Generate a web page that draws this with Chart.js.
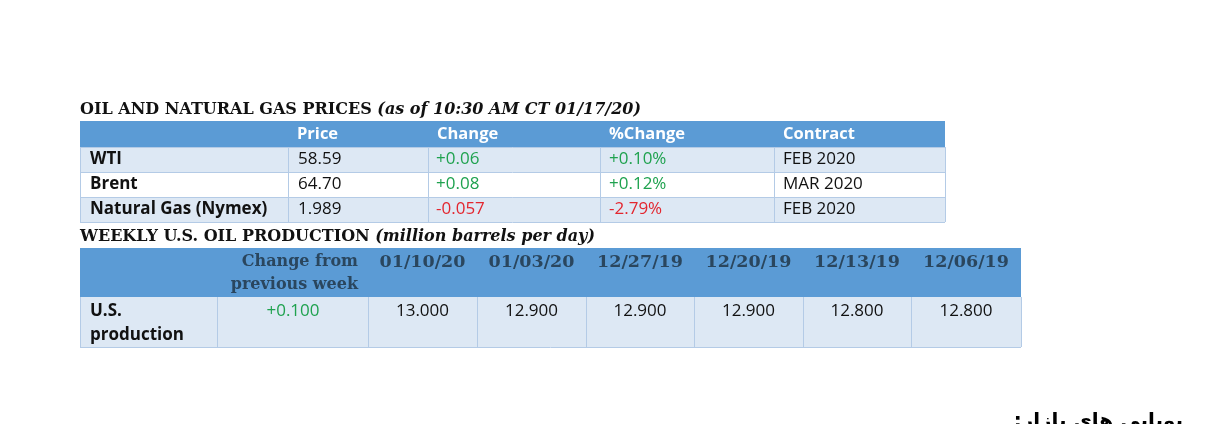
<!DOCTYPE html>
<html lang="en">
  <head>
    <meta charset="UTF-8" />
    <title>Oil and natural gas prices</title>
    <script src="https://cdn.jsdelivr.net/npm/chart.js"></script>
    <style>
      body {
        margin: 0;
        background: #ffffff;
      }
      .wrap {
        width: 1209px;
        height: 424px;
        position: relative;
      }
    </style>
  </head>
  <body>
    <div class="wrap">
      <canvas id="tableChart"></canvas>
    </div>

    <script>
      // prices table
      const priceTitle = "OIL AND NATURAL GAS PRICES ";
      const priceSubtitle = "(as of 10:30 AM CT 01/17/20)";
      const priceHeaders = ["", "Price", "Change", "%Change", "Contract"];
      const priceNames = ["WTI", "Brent", "Natural Gas (Nymex)"];
      const priceValues = ["58.59", "64.70", "1.989"];
      const priceChanges = ["+0.06", "+0.08", "-0.057"];
      const pctChanges = ["+0.10%", "+0.12%", "-2.79%"];
      const contracts = ["FEB 2020", "MAR 2020", "FEB 2020"];

      // weekly production table
      const prodTitle = "WEEKLY U.S. OIL PRODUCTION ";
      const prodSubtitle = "(million barrels per day)";
      const prodLabel = ["U.S.", "production"];
      const changeHeader = ["Change from", "previous week"];
      const weekDates = ["01/10/20", "01/03/20", "12/27/19", "12/20/19", "12/13/19", "12/06/19"];
      const weeklyChange = "+0.100";
      const weeklyOutput = ["13.000", "12.900", "12.900", "12.900", "12.800", "12.800"];

      const footerText = "پویایی های بازار:";

      const BLUE = "#5b9bd5";
      const LIGHT = "#dde8f4";
      const GRID = "#b4cbe6";
      const GREEN = "#1fa24f";
      const RED = "#e3262f";
      const DARK = "#111111";
      const SANS = '"Open Sans", sans-serif';
      const SERIF = '"DejaVu Serif", serif';

      function signColor(s) {
        return s.startsWith("-") ? RED : GREEN;
      }

      const tablePlugin = {
        id: "tables",
        afterDraw(chart) {
          const ctx = chart.ctx;
          const sx = chart.scales.x;
          const sy = chart.scales.y;
          const X = (v) => sx.getPixelForValue(v);
          const Y = (v) => sy.getPixelForValue(v);
          ctx.save();
          ctx.textBaseline = "middle";

          // ---- table 1 ----
          ctx.fillStyle = DARK;
          ctx.textAlign = "left";
          ctx.font = "bold 16px " + SERIF;
          ctx.fillText(priceTitle, X(80), Y(110));
          let w = ctx.measureText(priceTitle).width;
          ctx.font = "italic bold 16px " + SERIF;
          ctx.fillText(priceSubtitle, X(80) + w, Y(110));

          const cols1 = [80, 288, 428, 600, 774, 945];
          const rows1 = [121, 147, 172, 197, 222];
          ctx.fillStyle = BLUE;
          ctx.fillRect(X(80), Y(121), X(945) - X(80), Y(147) - Y(121));
          for (let r = 0; r < 3; r++) {
            ctx.fillStyle = r === 1 ? "#ffffff" : LIGHT;
            ctx.fillRect(X(80), Y(rows1[r + 1]), X(945) - X(80), Y(rows1[r + 2]) - Y(rows1[r + 1]));
          }
          ctx.strokeStyle = GRID;
          ctx.lineWidth = 1;
          for (let r = 1; r < rows1.length; r++) {
            ctx.beginPath();
            ctx.moveTo(X(80), Y(rows1[r]) + 0.5);
            ctx.lineTo(X(945), Y(rows1[r]) + 0.5);
            ctx.stroke();
          }
          for (let c = 0; c < cols1.length; c++) {
            ctx.beginPath();
            ctx.moveTo(X(cols1[c]) + 0.5, Y(147));
            ctx.lineTo(X(cols1[c]) + 0.5, Y(222));
            ctx.stroke();
          }

          ctx.font = "bold 16.5px " + SANS;
          ctx.fillStyle = "#ffffff";
          priceHeaders.forEach((h, i) => {
            ctx.fillText(h, X(cols1[i] + 9), Y(134));
          });
          for (let r = 0; r < priceNames.length; r++) {
            const cy = Y((rows1[r + 1] + rows1[r + 2]) / 2);
            ctx.font = "bold 17px " + SANS;
            ctx.fillStyle = DARK;
            ctx.fillText(priceNames[r], X(90), cy);
            ctx.font = "17px " + SANS;
            ctx.fillText(priceValues[r], X(298), cy);
            ctx.fillStyle = signColor(priceChanges[r]);
            ctx.fillText(priceChanges[r], X(436), cy);
            ctx.fillStyle = signColor(pctChanges[r]);
            ctx.fillText(pctChanges[r], X(609), cy);
            ctx.fillStyle = DARK;
            ctx.fillText(contracts[r], X(783), cy);
          }

          // ---- table 2 ----
          ctx.fillStyle = DARK;
          ctx.font = "bold 16px " + SERIF;
          ctx.fillText(prodTitle, X(80), Y(237));
          w = ctx.measureText(prodTitle).width;
          ctx.font = "italic bold 16px " + SERIF;
          ctx.fillText(prodSubtitle, X(80) + w, Y(237));

          const cols2 = [80, 217, 368, 477, 586, 694, 803, 911, 1021];
          ctx.fillStyle = BLUE;
          ctx.fillRect(X(80), Y(248), X(1021) - X(80), Y(297) - Y(248));
          ctx.fillStyle = LIGHT;
          ctx.fillRect(X(80), Y(297), X(1021) - X(80), Y(347) - Y(297));
          ctx.strokeStyle = GRID;
          ctx.beginPath();
          ctx.moveTo(X(80), Y(347) + 0.5);
          ctx.lineTo(X(1021), Y(347) + 0.5);
          ctx.stroke();
          for (let c = 0; c < cols2.length; c++) {
            ctx.beginPath();
            ctx.moveTo(X(cols2[c]) + 0.5, Y(297));
            ctx.lineTo(X(cols2[c]) + 0.5, Y(347));
            ctx.stroke();
          }

          ctx.font = "bold 16px " + SERIF;
          ctx.fillStyle = "#2a465e";
          ctx.textAlign = "right";
          ctx.fillText(changeHeader[0], X(358), Y(262));
          ctx.fillText(changeHeader[1], X(358), Y(285));
          ctx.textAlign = "center";
          ctx.font = "bold 17.5px " + SERIF;
          weekDates.forEach((d, i) => {
            ctx.fillText(d, X((cols2[i + 2] + cols2[i + 3]) / 2), Y(262));
          });

          ctx.font = "17px " + SANS;
          ctx.fillStyle = signColor(weeklyChange);
          ctx.fillText(weeklyChange, X(293), Y(311));
          ctx.fillStyle = DARK;
          weeklyOutput.forEach((v, i) => {
            ctx.fillText(v, X((cols2[i + 2] + cols2[i + 3]) / 2), Y(311));
          });
          ctx.textAlign = "left";
          ctx.font = "bold 17px " + SANS;
          ctx.fillText(prodLabel[0], X(90), Y(311));
          ctx.fillText(prodLabel[1], X(90), Y(335));

          // footer (cut by the page edge)
          ctx.font = "bold 20px " + '"DejaVu Sans", sans-serif';
          ctx.textBaseline = "alphabetic";
          ctx.textAlign = "right";
          ctx.direction = "rtl";
          ctx.fillStyle = "#000000";
          ctx.fillText(footerText, X(1183), Y(427));
          ctx.restore();
        },
      };

      new Chart(document.getElementById("tableChart"), {
        type: "scatter",
        data: { datasets: [{ data: [], showLine: false }] },
        options: {
          responsive: true,
          maintainAspectRatio: false,
          animation: false,
          events: [],
          layout: { padding: 0 },
          plugins: { legend: { display: false }, tooltip: { enabled: false } },
          scales: {
            x: { type: "linear", min: 0, max: 1209, display: false },
            y: { type: "linear", min: 0, max: 424, reverse: true, display: false },
          },
        },
        plugins: [tablePlugin],
      });
    </script>
  </body>
</html>
